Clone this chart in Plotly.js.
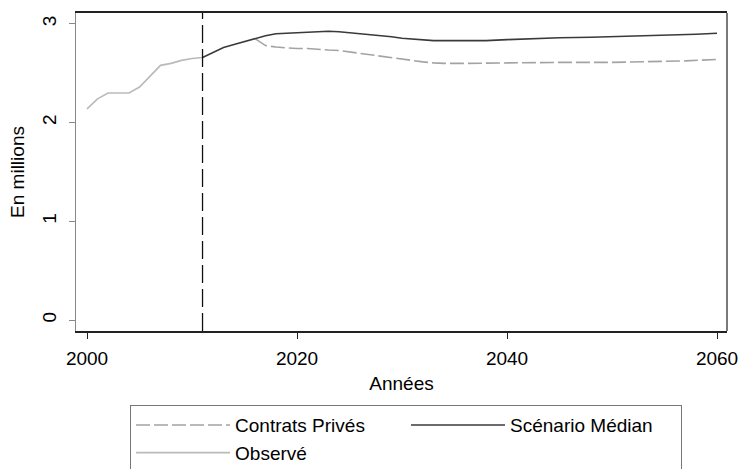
<!DOCTYPE html>
<html>
<head>
<meta charset="utf-8">
<script src="https://cdn.plot.ly/plotly-3.0.1.min.js"></script>
<style>html,body{margin:0;padding:0;background:#fff;}#chart{width:738px;height:469px;}</style>
</head>
<body>
<div id="chart"></div>
<script>
// Observed series
const obsYears = [2000,2001,2002,2003,2004,2005,2006,2007,2008,2009,2010,2011];
const obsValues = [2.14,2.24,2.30,2.30,2.30,2.36,2.47,2.58,2.60,2.63,2.65,2.66];

// Scénario Médian
const medYears = [2011,2012,2013,2014,2015,2016,2017,2018,2019,2020,2021,2022,2023,2024,2025,2026,2027,2028,2029,2030,2031,2032,2033,2035,2038,2040,2042,2045,2048,2050,2052,2055,2058,2060];
const medValues = [2.66,2.71,2.76,2.79,2.82,2.85,2.88,2.90,2.905,2.91,2.915,2.925,2.925,2.92,2.91,2.905,2.895,2.885,2.87,2.855,2.845,2.835,2.83,2.83,2.83,2.84,2.85,2.86,2.865,2.87,2.88,2.885,2.895,2.905];

// Contrats Privés
const cpYears = [2016,2017,2018,2019,2020,2021,2022,2023,2024,2025,2026,2027,2028,2029,2030,2031,2032,2033,2034,2036,2040,2045,2050,2054,2057,2060];
const cpValues = [2.85,2.78,2.765,2.755,2.75,2.75,2.74,2.735,2.73,2.715,2.70,2.685,2.67,2.655,2.64,2.625,2.615,2.605,2.60,2.60,2.605,2.61,2.61,2.615,2.625,2.64];

const markerYear = 2011;
const xTicks = [2000,2020,2040,2060];
const yTicks = [0,1,2,3];

const FONT = '"Liberation Sans", Arial, sans-serif';
const FS = 19;

const traces = [
  {x: obsYears, y: obsValues, name: 'Observé', mode: 'lines', legendrank: 3,
   line: {color: '#bababa', width: 1.6}},
  {x: cpYears, y: cpValues, name: 'Contrats Privés', mode: 'lines', legendrank: 1,
   line: {color: '#a3a3a3', width: 1.6, dash: '14px,4px'}},
  {x: medYears, y: medValues, name: 'Scénario Médian', mode: 'lines', legendrank: 2,
   line: {color: '#3a3a3a', width: 1.6}}
];

const layout = {
  width: 738, height: 469,
  margin: {l: 76, r: 11, t: 13, b: 138, autoexpand: false},
  paper_bgcolor: '#fff', plot_bgcolor: '#fff',
  font: {family: FONT, size: FS, color: '#000'},
  showlegend: true,
  xaxis: {
    range: [1998.95, 2060.95], tickvals: xTicks, ticktext: xTicks.map(String),
    showgrid: false, zeroline: false, showline: true, linecolor: '#222', linewidth: 1.6,
    mirror: true, ticks: 'outside', ticklen: 6, tickcolor: '#222', tickwidth: 1,
    ticklabelstandoff: 4, ticklabeloverflow: 'allow',
    tickfont: {size: FS, family: FONT},
    title: {text: 'Années', font: {size: FS, family: FONT}, standoff: 8}
  },
  yaxis: {
    range: [-0.11, 3.11], tickvals: yTicks, ticktext: yTicks.map(String),
    showgrid: false, zeroline: false, showline: true, linecolor: '#888', linewidth: 1,
    ticks: 'outside', ticklen: 6, tickcolor: '#888', tickwidth: 1, tickangle: -90,
    ticklabelstandoff: 5, ticklabeloverflow: 'allow',
    tickfont: {size: FS, family: FONT},
    title: {text: 'En millions', font: {size: FS, family: FONT}, standoff: 9}
  },
  shapes: [
    {type: 'line', xref: 'x', yref: 'paper', x0: markerYear, x1: markerYear, y0: 0, y1: 1,
     line: {color: '#111', width: 1.3, dash: '18px,6px'}},
    {type: 'line', xref: 'paper', yref: 'paper', x0: 1, x1: 1, y0: 0, y1: 1,
     line: {color: '#222', width: 1.2}}
  ],
  legend: {
    orientation: 'h', x: 0.083, y: -0.233, xanchor: 'left', yanchor: 'top',
    bordercolor: '#777', borderwidth: 1, bgcolor: '#fff',
    itemwidth: 94, entrywidth: 166, entrywidthmode: 'pixels',
    font: {size: FS, family: FONT}, traceorder: 'normal'
  }
};

Plotly.newPlot('chart', traces, layout, {displayModeBar: false, staticPlot: true});
</script>
</body>
</html>
